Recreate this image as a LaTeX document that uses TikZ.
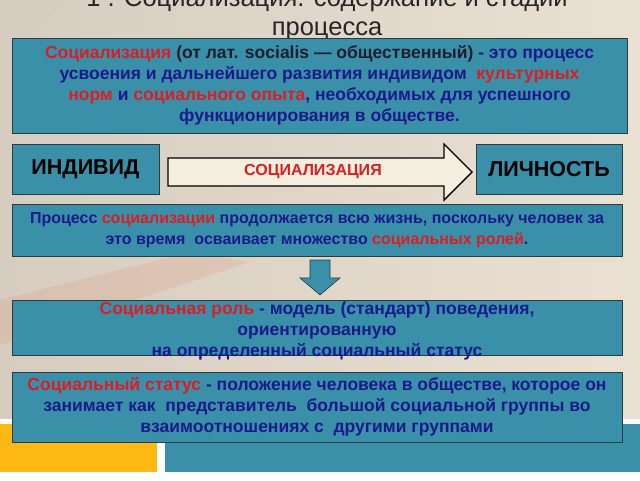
\documentclass[tikz,border=0pt]{standalone}
\usepackage{fontspec}
\setmainfont{Liberation Sans}
\usetikzlibrary{positioning}
\definecolor{boxteal}{RGB}{58,144,168}
\definecolor{boxedge}{RGB}{40,60,66}
\definecolor{arrowcream}{RGB}{243,238,222}
\definecolor{textred}{RGB}{218,30,38}
\definecolor{textblue}{RGB}{26,26,140}
\definecolor{textdark}{RGB}{30,30,48}
\definecolor{paperbeige}{RGB}{234,225,211}
\definecolor{paperdark}{RGB}{214,204,192}
\definecolor{pencilpink}{RGB}{222,170,150}
\definecolor{orangeblock}{RGB}{253,184,19}
\newcommand{\rd}[1]{\textcolor{textred}{#1}}

\begin{document}
\begin{tikzpicture}[x=1pt, y=-1pt,
  tealbox/.style={rectangle, fill=boxteal, draw=boxedge, line width=0.8pt, inner sep=0pt, align=center},
  bigtext/.style={font=\bfseries\fontsize{17.5}{21}\selectfont, text=textblue, align=center},
  smalltext/.style={font=\bfseries\fontsize{16}{21}\selectfont, text=textblue, align=center},
  capstext/.style={font=\bfseries\fontsize{21.5}{24}\selectfont, text=black},
  blockarrow/.style={fill=arrowcream, draw=black, line width=1.4pt, line join=miter},
  downarrow/.style={fill=boxteal, draw=boxedge, line width=0.6pt}]
\useasboundingbox (0,0) rectangle (640,480);
% background
\shade[left color=paperdark, right color=paperbeige] (0,0) rectangle (640,418);
\fill[pencilpink, opacity=0.35] (0,300) -- (190,252) -- (250,262) -- (0,345) -- cycle;
\fill[paperdark, opacity=0.5] (0,0) -- (70,0) -- (0,60) -- cycle;
\fill[orangeblock] (0,424) rectangle (157,472);
\fill[boxteal] (165,424) rectangle (640,472);
% title
\node[font=\fontsize{25.5}{29}\selectfont, text=black!85, align=center] (title) at (327,15) {1 . Социализация. содержание и стадии\\ процесса};
% definition
\node[tealbox, bigtext, minimum width=615pt, minimum height=95pt] (defbox) at (319.5,85.5)
  {\rd{Социализация} \textcolor{textdark}{(от лат. socialis — общественный)} - это процесс\\
   усвоения и дальнейшего развития индивидом \ \rd{культурных}\\
   \rd{норм} и \rd{социального опыта}, необходимых для успешного\\
   функционирования в обществе.};
% individual -> personality
\node[tealbox, capstext, minimum width=147pt, minimum height=50pt] (indiv) at (85.5,169) {ИНДИВИД};
\node[tealbox, capstext, minimum width=146pt, minimum height=50pt] (person) at (549,169) {ЛИЧНОСТЬ};
\draw[blockarrow] (168,158) -- (444,158) -- (444,144) -- (472,172) -- (444,200) -- (444,186) -- (168,186) -- cycle;
\node[font=\bfseries\fontsize{16}{18}\selectfont, text=textred] (soclabel) at (313,172) {СОЦИАЛИЗАЦИЯ};
% process
\node[tealbox, smalltext, minimum width=610pt, minimum height=52pt] (procbox) at (317,230)
  {Процесс \rd{социализации} продолжается всю жизнь, поскольку человек за\\
   это время \ осваивает множество \rd{социальных ролей}.};
\draw[downarrow] (310,260) -- (330,260) -- (330,278) -- (340,278) -- (320,295) -- (300,278) -- (310,278) -- cycle;
% role
\node[tealbox, minimum width=610pt, minimum height=55pt] (rolebox) at (317,327.5) {};
\node[bigtext] (roletext) at (317,330.5) {\rd{Социальная роль} - модель (стандарт) поведения,\\
   ориентированную\\
   на определенный социальный статус};
% status
\node[tealbox, bigtext, minimum width=610pt, minimum height=70pt] (statbox) at (317,407)
  {\rd{Социальный статус} - положение человека в обществе, которое он\\
   занимает как \ представитель \ большой социальной группы во\\
   взаимоотношениях с \ другими группами};
\end{tikzpicture}
\end{document}
